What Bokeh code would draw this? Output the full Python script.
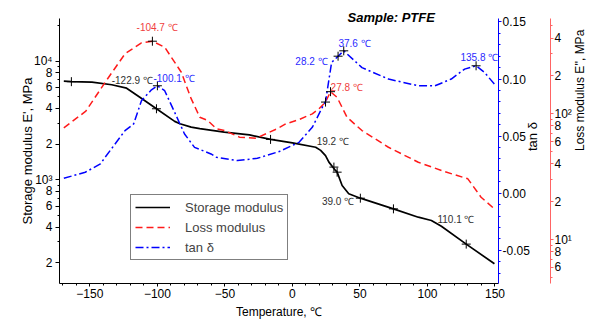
import math
from bokeh.plotting import figure
from bokeh.models import (Range1d, LinearAxis, LogAxis, LogScale, LinearScale, Title,
                          FixedTicker, SingleIntervalTicker, Label, Legend, LegendItem)
from bokeh.embed import file_html
from bokeh.resources import INLINE

FONT = "Liberation Sans"

# ---------------- data ----------------
temp_storage = [-169.3, -163.7, -148.5, -133.8, -122.8, -113.0, -100.7, -87.2, -83.3, -75.0,
                -68.6, -50.5, -31.8, -16.2, 0.0, 17.2, 20.9, 24.5, 27.0, 31.9, 33.1, 36.8,
                41.7, 50.3, 74.8, 93.2, 102.9, 110.3, 128.7, 149.6]
storage_mpa = [6780, 6720, 6660, 6330, 5920, 4960, 3970, 3110, 2970, 2780,
               2700, 2520, 2390, 2190, 2050, 1880, 1770, 1600, 1410, 1200, 1160, 896,
               762, 700, 569, 484, 454, 406, 287, 196]

temp_loss = [-169.3, -153.0, -138.7, -124.0, -111.8, -103.7, -94.6, -82.3, -75.0, -68.6,
             -62.7, -56.3, -50.4, -39.2, -26.9, -11.3, -4.9, 4.9, 14.7, 19.6, 24.5, 28.2,
             33.1, 40.4, 51.5, 71.1, 93.2, 112.8, 129.9, 139.7, 149.6]
loss_mpa = [77.4, 105, 178, 300, 367, 378, 339, 214, 132, 94,
            88.4, 76, 73.7, 65.2, 64, 76, 83.2, 90, 100, 109.6, 124, 150,
            135, 94, 73.6, 54.2, 41.2, 34.7, 30.4, 21.7, 17.5]

temp_tan = [-169.3, -153.4, -142.2, -138.7, -124.0, -117.6, -111.8, -104.4, -100.0, -94.6,
            -87.2, -79.9, -72.5, -60.3, -56.3, -40.7, -26.0, -19.6, -9.8, 4.9, 14.7, 22.1,
            24.5, 29.0, 33.8, 38.0, 51.5, 71.1, 93.2, 105.4, 117.6, 127.5, 136.0, 142.2, 149.6]
tan_delta = [0.0131, 0.0184, 0.0257, 0.0315, 0.0548, 0.0607, 0.081, 0.0906, 0.0941, 0.0898,
             0.0708, 0.0519, 0.0402, 0.0344, 0.0315, 0.0286, 0.0306, 0.033, 0.0365, 0.0446, 0.0577, 0.0752,
             0.0802, 0.1145, 0.120, 0.1247, 0.110, 0.100, 0.0941, 0.094, 0.100, 0.1087, 0.1116, 0.1058, 0.0956]

# "+" markers on the curves
storage_mark_t = [-163.7, -100.7, -16.2, 30.7, 33.1, 50.3, 74.8, 128.7]
storage_mark_v = [6720, 3970, 2190, 1280, 1160, 700, 569, 287]
loss_mark_t = [-103.7, 24.5, 28.2]
loss_mark_v = [378, 124, 150]
tan_mark_t = [-100.0, 33.8, 38.0, 136.0]
tan_mark_v = [0.0941, 0.120, 0.1247, 0.1116]

# ticks
storage_ticks = [200, 400, 600, 800, 1000, 2000, 4000, 6000, 8000, 10000]
storage_tick_labels = ["2", "4", "6", "8", "10³", "2", "4", "6", "8", "10⁴"]
loss_ticks = [6, 8, 10, 20, 40, 60, 80, 100, 200, 400]
loss_tick_labels = ["6", "8", "10¹", "2", "4", "6", "8", "10²", "2", "4"]
tan_ticks = [-0.05, 0.0, 0.05, 0.1, 0.15]
tan_tick_labels = ["-0.05", "0.00", "0.05", "0.10", "0.15"]

# ---------------- figure ----------------
p = figure(width=596, height=321, y_axis_type="log",
           x_range=Range1d(-172.5, 152.6), y_range=Range1d(133.6, 22900),
           output_backend="svg", toolbar_location=None,
           min_border_left=59, min_border_top=18, min_border_bottom=38, min_border_right=95)
p.extra_y_ranges = {"tan": Range1d(-0.079, 0.153), "loss": Range1d(4.47, 573)}
p.extra_y_scales = {"tan": LinearScale(), "loss": LogScale()}
p.grid.visible = False
p.outline_line_color = None
p.background_fill_color = "white"
p.border_fill_color = "white"


def style_axis(ax, color="black"):
    ax.axis_line_color = color
    ax.major_tick_line_color = color
    ax.minor_tick_line_color = color
    ax.major_tick_out = 4
    ax.major_tick_in = 0
    ax.minor_tick_out = 2
    ax.minor_tick_in = 0
    ax.major_label_text_font = FONT
    ax.major_label_text_font_size = "12px"
    ax.major_label_text_color = "black"
    ax.axis_label_text_font = FONT
    ax.axis_label_text_font_style = "normal"
    ax.axis_label_text_color = "black"
    ax.major_label_standoff = 3


xa = p.xaxis[0]
style_axis(xa)
xa.ticker = SingleIntervalTicker(interval=50, num_minor_ticks=5)
xa.major_label_standoff = 2
xa.major_tick_out = 3

ya = p.yaxis[0]
style_axis(ya)
ya.ticker = FixedTicker(ticks=storage_ticks,
                        minor_ticks=[300, 500, 700, 900, 3000, 5000, 7000, 9000, 20000])
ya.major_label_overrides = dict(zip(storage_ticks, storage_tick_labels))
ya.axis_label = "Storage modulus E', MPa"
ya.axis_label_text_font_size = "13px"
ya.axis_label_standoff = -4

tan_axis = LinearAxis(y_range_name="tan")
style_axis(tan_axis, "blue")
tan_axis.major_tick_out = 3
tan_axis.major_label_standoff = 1
tan_axis.ticker = FixedTicker(ticks=tan_ticks,
                              minor_ticks=[k / 100 for k in range(-7, 16) if k % 5])
tan_axis.major_label_overrides = dict(zip(tan_ticks, tan_tick_labels))
tan_axis.axis_label = "tan δ"
tan_axis.axis_label_text_font_size = "13px"
tan_axis.axis_label_standoff = 0
tan_axis.axis_label_orientation = math.pi / 2
p.add_layout(tan_axis, "right")

loss_axis = LogAxis(y_range_name="loss")
style_axis(loss_axis, "#ff6464")
loss_axis.major_tick_out = 3
loss_axis.ticker = FixedTicker(ticks=loss_ticks,
                               minor_ticks=[5, 7, 9, 30, 50, 70, 90, 300, 500])
loss_axis.major_label_overrides = dict(zip(loss_ticks, loss_tick_labels))
loss_axis.axis_label = "Loss modulus E'', MPa"
loss_axis.axis_label_text_font_size = "12px"
loss_axis.axis_label_standoff = 5
loss_axis.major_label_standoff = 1
loss_axis.axis_label_orientation = math.pi / 2
p.add_layout(loss_axis, "right")

# titles: sample name at the top, x-axis title at the bottom
p.add_layout(Title(text="Sample: PTFE", align="left", offset=288, standoff=-12,
                   text_font=FONT, text_font_size="13px", text_font_style="bold italic",
                   text_color="black"), "above")
p.add_layout(Title(text="Temperature, ℃", align="center", offset=5, standoff=4,
                   text_font=FONT, text_font_size="12px", text_font_style="normal",
                   text_color="black"), "below")

# ---------------- curves ----------------
r_s = p.line(temp_storage, storage_mpa, line_color="black", line_width=1.7)
r_l = p.line(temp_loss, loss_mpa, line_color="#ff1a1a", line_width=1.5,
             line_dash="7 4", y_range_name="loss")
r_t = p.line(temp_tan, tan_delta, line_color="#0000ff", line_width=1.5,
             line_dash="8 3 2 3", y_range_name="tan")

p.scatter(storage_mark_t, storage_mark_v, marker="cross", size=9, line_color="black", line_width=1)
p.scatter(loss_mark_t, loss_mark_v, marker="cross", size=9, line_color="black", line_width=1,
          y_range_name="loss")
p.scatter(tan_mark_t, tan_mark_v, marker="cross", size=9, line_color="black", line_width=1,
          y_range_name="tan")

# ---------------- annotations ----------------
RED_T = "#f04040"
BLUE_T = "#2a2aff"
GRAY_T = "#303030"


def ann(x, y, text, color, rng="default", size="10px", style="normal"):
    p.add_layout(Label(x=x, y=y, text=text, text_color=color, text_font=FONT,
                       text_font_size=size, text_font_style=style,
                       text_align="center", text_baseline="middle", y_range_name=rng))


ann(-100.2, 489, "-104.7 ℃", RED_T, "loss")
ann(-118.6, 6870, "-122.9 ℃", GRAY_T)
ann(-87.7, 0.1009, "-100.1 ℃", BLUE_T, "tan")
ann(14.1, 0.1154, "28.2 ℃", BLUE_T, "tan")
ann(46.0, 0.1315, "37.6 ℃", BLUE_T, "tan")
ann(40.2, 163, "27.8 ℃", RED_T, "loss")
ann(138.4, 0.1189, "135.8 ℃", BLUE_T, "tan")
ann(29.9, 2115, "19.2 ℃", GRAY_T)
ann(33.8, 657, "39.0 ℃", GRAY_T)
ann(121.1, 463, "110.1 ℃", GRAY_T)

# ---------------- legend ----------------
legend = Legend(items=[LegendItem(label="Storage modulus", renderers=[r_s]),
                       LegendItem(label="Loss modulus", renderers=[r_l]),
                       LegendItem(label="tan δ", renderers=[r_t])],
                location=(71, 23))
legend.label_text_font = FONT
legend.label_text_font_size = "13px"
legend.border_line_color = "black"
legend.border_line_width = 1
legend.background_fill_alpha = 1
legend.padding = 4
legend.spacing = 4
legend.margin = 0
legend.glyph_width = 35
legend.glyph_height = 16
legend.label_height = 16
legend.label_standoff = 15
p.add_layout(legend)

open("out.html", "w").write(file_html(p, INLINE))
